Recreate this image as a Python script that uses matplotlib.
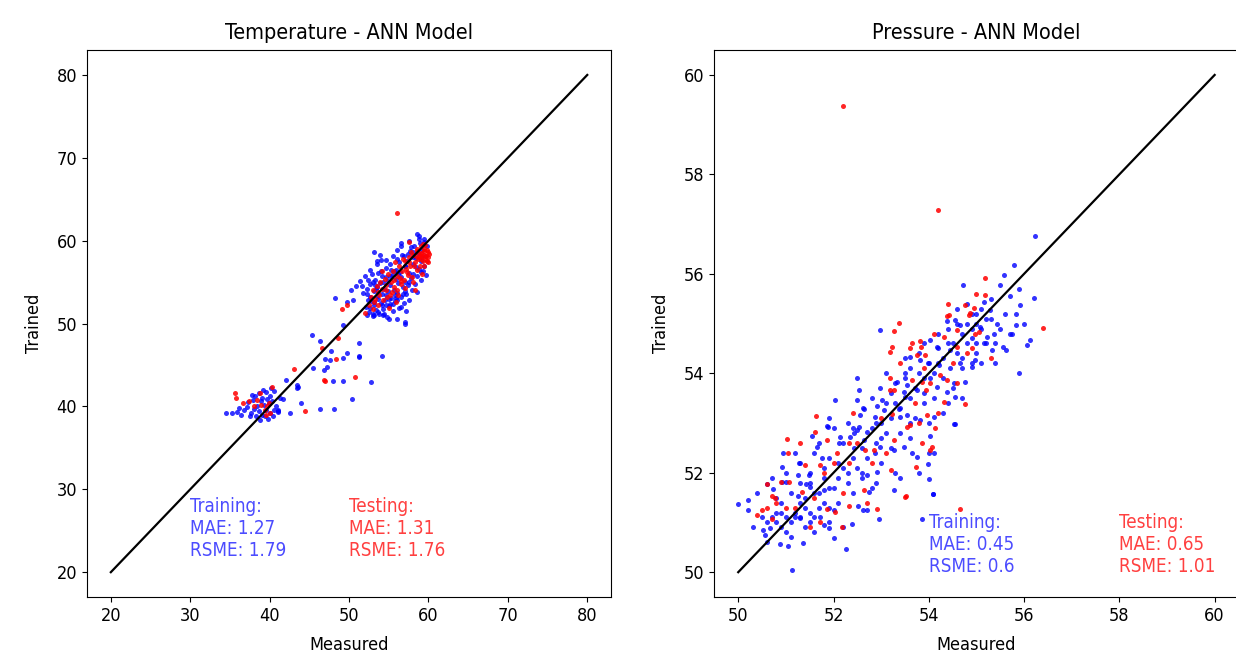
import numpy as np
import matplotlib
matplotlib.use('Agg')
import matplotlib.pyplot as plt

plt.rcParams['font.family'] = ['DejaVu Sans']
plt.rcParams['font.stretch'] = 'condensed'

# Temperature model: (measured, trained) pairs
temp_train = [
    # low cluster
    (34.5,39.2),(35.2,39.2),(35.9,39.3),(36.4,39.0),(36.8,39.6),(37.1,39.9),(37.3,40.5),(37.6,39.2),
    (37.9,40.8),(38.0,39.7),(38.2,41.2),(38.4,40.1),(38.6,39.4),(38.7,41.6),(38.9,40.6),(39.0,39.0),
    (39.1,41.0),(39.3,40.2),(39.4,38.8),(39.5,41.8),(39.6,39.6),(39.7,40.9),(39.8,38.5),(39.9,40.4),
    (40.0,41.3),(40.1,39.2),(40.3,40.7),(40.4,38.9),(40.6,41.9),(40.8,40.0),(38.3,38.9),(37.5,38.8),
    (36.2,39.8),(39.2,42.0),(40.5,39.6),(41.0,39.3),(41.3,41.0),(38.8,38.4),(37.8,41.4),(40.2,42.2),
    # middle scatter
    (45.3,48.6),(46.4,47.9),(49.3,49.8),(51.2,47.7),(47.7,46.7),(49.7,46.5),(49.3,45.9),(51.2,46.0),
    (47.0,45.7),(47.6,45.6),(47.2,44.8),(45.5,44.6),(46.8,44.4),(42.0,43.2),(43.4,42.6),(43.5,42.2),
    (48.0,43.1),(49.2,43.1),(52.8,43.0),(41.7,40.9),(43.9,40.4),(50.4,40.9),(46.4,39.7),(48.1,39.7),
    (42.6,39.2),(54.2,46.1),(57.0,50.0),(51.3,46.1),(41.0,39.6),(43.6,42.4),(41.1,39.4),
    # upper cluster
    (48.2,53.1),(50.3,54.1),(50.9,54.5),(51.6,54.5),(50.5,52.9),(49.7,52.6),(52.6,56.5),(53.2,58.6),
    (53.5,57.5),(56.6,59.7),(58.5,60.8),(58.8,60.2),(57.0,50.2),(56.6,52.0),(55.5,52.4),(52.2,51.0),
    (53.0,51.2),(54.3,51.0),(52.4,55.3),(51.4,55.1),(51.8,53.7),(53.5,53.3),(56.0,58.9),(54.7,57.7),
    (52.1,52.0),(52.3,53.6),(52.5,51.4),(52.6,54.8),(52.8,52.7),(53.0,50.9),(53.1,53.9),(53.2,52.2),
    (53.3,55.3),(53.4,51.6),(53.5,54.4),(53.6,53.0),(53.7,56.1),(53.8,51.1),(53.9,54.9),(54.0,52.5),
    (54.1,53.6),(54.2,55.8),(54.3,51.8),(54.4,54.2),(54.5,52.9),(54.6,56.7),(54.7,53.4),(54.8,50.8),
    (54.9,55.1),(55.0,52.1),(55.1,54.6),(55.2,57.2),(55.3,53.1),(55.4,55.9),(55.5,51.5),(55.6,54.0),
    (55.7,56.4),(55.8,52.7),(55.9,55.4),(56.0,57.8),(56.1,53.7),(56.2,54.9),(56.3,51.9),(56.4,56.2),
    (56.5,53.2),(56.6,55.6),(56.7,58.3),(56.8,54.4),(56.9,52.5),(57.0,56.9),(57.1,55.0),(57.2,53.6),
    (57.3,57.6),(57.4,54.7),(57.5,56.1),(57.6,52.9),(57.7,58.7),(57.8,55.5),(57.9,54.1),(58.0,57.2),
    (58.1,56.0),(58.2,59.3),(58.3,54.8),(58.4,57.9),(58.5,55.7),(58.6,53.8),(58.7,58.5),(58.8,56.6),
    (58.9,59.7),(59.0,55.2),(59.1,57.6),(59.2,58.9),(59.3,56.3),(59.4,60.2),(59.5,57.0),(59.6,58.2),
    (59.7,55.9),(59.8,59.4),(53.5,57.2),(54.0,57.7),(55.5,58.1),(56.5,59.4),(57.5,60.0),(58.8,60.6),
    (55.0,50.5),(56.0,50.6),(57.2,51.5),(52.0,55.7),(52.9,56.0),(53.9,58.3),(54.4,51.2),(55.2,52.4),
    (56.0,52.9),(57.0,53.9),(53.2,51.0),(53.6,51.4),(52.7,51.9),(54.6,52.2),(55.8,53.4),(55.2,55.8),
    (56.3,57.4),(57.8,59.2),(58.0,58.0),(59.1,56.2),(52.3,54.2),(53.0,55.0),(54.0,56.4),(55.9,56.5),
    (57.4,58.4),(54.9,53.9),(53.3,54.7),(52.4,52.8),(53.4,54.2),(54.3,55.0),(55.3,56.5),(56.2,56.0),
    (57.1,57.0),(58.1,58.6),(59.0,58.0),(59.5,59.9),(58.4,56.8),(57.6,55.0),(56.8,53.6),(55.9,53.1),
    (55.0,53.0),(54.1,52.2),(53.1,52.6),(52.6,53.2),(54.6,55.6),(56.9,58.1),
]
temp_test = [
    # low cluster
    (35.7,41.6),(36.7,40.4),(38.8,41.6),(40.3,42.4),(38.0,40.0),(39.4,39.6),(39.9,40.4),(40.1,39.2),
    (37.4,40.6),(38.4,40.8),(39.7,40.0),(35.8,41.0),(39.6,39.0),(38.9,40.2),
    # middle scatter
    (44.4,39.5),(47.0,43.1),(48.6,48.2),(46.6,47.1),(48.4,45.7),(43.1,44.5),(46.9,43.2),(50.7,43.6),
    (49.1,51.7),(49.8,52.2),
    # upper cluster
    (56.0,63.4),(57.6,59.8),(58.3,54.1),
    (52.5,52.3),(52.8,53.2),(53.0,54.0),(53.3,53.0),(53.5,54.5),(53.7,53.8),(53.9,55.0),(54.1,54.2),
    (54.3,52.8),(54.5,55.4),(54.7,54.0),(54.9,56.0),(55.1,53.5),(55.3,55.0),(55.5,56.3),(55.7,54.4),
    (55.9,52.6),(56.1,55.8),(56.3,57.0),(56.5,54.8),(56.7,56.4),(56.9,55.3),(57.1,57.5),(57.3,56.2),
    (57.5,58.0),(57.7,57.0),(57.9,55.6),(58.1,58.3),(58.3,57.4),(58.5,58.8),(58.7,57.8),(58.9,56.9),
    (59.1,58.5),(59.3,57.5),(59.5,59.0),(59.7,58.1),(59.9,58.6),(59.4,57.0),(59.8,57.6),(58.6,56.5),
    (59.0,59.3),(59.6,59.5),(57.8,58.6),(56.8,57.8),(55.8,57.4),(54.2,56.3),(53.0,51.8),(52.0,51.3),
    (55.0,51.9),(56.2,53.4),(57.0,54.3),(58.0,55.0),(59.2,56.0),(59.9,57.4),(53.6,52.2),(54.8,53.2),
    (56.0,54.0),(60.0,58.0),(59.5,58.3),(58.8,58.0),(58.2,57.0),(58.4,58.1),(58.6,59.0),(59.0,57.8),
    (59.2,58.2),(59.4,58.8),(59.6,57.8),(59.8,58.9),(60.1,58.4),(59.3,59.6),(58.9,58.4),(57.6,57.4),
    (57.2,56.6),(56.4,55.5),(55.6,55.2),(54.6,54.7),(53.8,53.5),(53.2,52.6),(55.4,53.8),(56.6,55.1),
    (57.4,55.9),
]

# Pressure model
pres_train = [
    (50.0,51.37),(50.2,51.45),(50.2,51.25),(50.6,51.77),(51.0,51.82),(50.95,52.39),(51.27,52.2),
    (51.43,51.77),(51.86,52.94),(52.04,53.46),(52.13,52.72),(52.53,53.66),(52.62,53.3),(52.97,54.88),
    (53.98,54.2),(54.72,55.77),(55.71,55.55),(56.2,55.52),(56.06,54.57),(55.75,54.8),(55.56,54.53),
    (54.54,52.98),(54.0,51.87),(54.08,51.57),(53.98,52.17),(53.27,51.66),(52.95,51.06),(52.62,51.25),
    (52.27,50.46),(52.0,50.68),(51.79,50.95),(51.04,50.52),(50.87,50.56),(51.36,50.59),(51.13,50.04),
    (50.53,50.85),(50.57,50.74),(50.66,50.88),(50.74,51.68),(50.92,51.82),(50.92,52.12),(51.3,52.19),
    (51.55,52.74),(51.88,52.92),(51.25,51.53),(52.39,50.97),(52.51,51.33),(52.7,51.25),(52.74,51.62),
    (52.91,52.02),(52.7,51.95),(52.88,52.4),(52.42,52.49),(51.65,52.52),(52.11,52.59),(52.35,52.72),
    (52.49,52.86),(51.76,52.29),(51.48,51.95),(51.26,51.95),(51.51,51.72),(51.79,51.65),(51.72,51.11),
    (51.9,50.88),(52.0,51.26),(51.3,51.08),(53.61,54.33),(53.82,54.27),(54.03,54.67),(54.17,54.53),
    (54.38,55.06),(54.56,55.07),(54.66,54.97),(55.15,55.44),(55.08,54.94),(55.23,54.73),(55.15,54.6),
    (55.36,54.8),(55.43,55.0),(55.33,54.47),(54.98,54.27),(54.66,54.2),(54.45,54.1),(54.21,54.16),
    (54.17,53.72),(53.75,53.66),(53.54,53.76),(53.51,53.53),(53.47,53.63),(53.33,53.83),(52.98,53.7),
    (53.02,53.46),(52.91,53.34),(52.88,53.12),(53.05,53.26),(53.37,53.29),(53.4,53.12),(53.54,53.16),
    (53.82,53.06),(54.1,53.13),(54.56,53.53),(54.52,52.99),(54.03,52.74),(54.0,52.39),(53.75,52.32),
    (53.65,52.39),(53.47,52.52),(53.26,52.45),(52.98,52.52),(52.63,52.66),(52.7,52.82),(52.53,52.92),
    (52.42,52.79),(52.56,53.16),(52.63,53.29),(52.49,53.46),(54.03,53.9),(54.45,54.47),(54.91,54.13),
    (54.77,53.83),(54.52,53.8),(54.38,53.63),(55.57,55.98),(55.5,55.77),(55.78,56.18),(55.29,55.27),
    (55.92,55.37),(56.13,54.67),(55.82,54.97),(55.61,54.47),(56.22,56.76),(53.86,51.06),(54.08,51.57),
    (55.82,55.2),(54.5,54.6),(54.7,54.8),(54.9,54.7),(55.0,55.0),(55.1,54.9),(54.8,54.6),(54.6,54.4),
    (55.2,55.1),(54.3,54.3),(54.1,54.0),(53.9,53.9),(53.7,53.7),(53.6,53.5),(53.4,53.3),(53.0,53.0),
    (52.8,52.9),(52.6,52.5),(52.4,52.3),(52.2,52.1),(51.8,51.9),(51.6,51.6),(51.4,51.5),(51.2,51.2),
    (51.0,51.1),(50.8,51.0),(50.7,51.1),(50.9,51.2),(51.1,51.0),(51.3,51.1),(51.5,51.2),(51.5,51.0),
    (51.7,51.3),(51.9,51.0),(51.2,51.1),(51.6,51.1),(50.6,51.0),(50.8,51.2),(53.2,53.6),(53.8,54.0),
    (54.2,54.8),(54.9,55.2),(55.0,54.6),(54.7,54.3),(53.5,54.0),(53.1,52.8),(52.3,51.8),(51.9,51.7),
    (52.1,51.4),(53.9,53.4),(54.4,53.4),(55.4,54.2),(55.9,54.0),(53.3,52.0),(52.8,51.7),(51.0,50.8),
    (50.5,51.1),(50.9,50.9),(51.4,51.3),(51.7,51.6),(51.5,51.8),(51.9,52.3),(52.2,52.6),(52.5,52.1),
    (52.4,52.9),(52.9,53.0),(53.1,53.4),(53.3,53.8),(53.6,54.1),(53.8,54.4),(54.0,54.2),(54.2,54.5),
    (54.4,54.9),(54.6,55.0),(54.8,55.0),(55.0,54.4),(54.7,54.1),(54.3,53.9),(53.9,53.6),(53.4,52.8),
    (52.6,52.0),(52.1,51.9),(51.8,52.1),(51.3,51.4),(50.8,51.5),(51.1,51.6),(52.9,52.6),(53.2,53.1),
    (54.9,54.9),(55.1,55.3),(55.3,55.1),(55.5,54.9),(52.0,52.9),(51.6,52.4),(53.6,53.0),(54.1,53.5),
    (50.3,50.9),(50.4,51.6),(50.6,50.6),(50.7,51.9),(50.9,51.4),(51.0,52.0),(51.1,50.7),(51.2,52.4),
    (51.3,51.8),(51.4,50.9),(51.5,52.0),(51.6,50.8),(51.7,52.6),(51.8,51.4),(51.9,53.1),(52.0,51.7),
    (52.1,52.2),(52.2,50.9),(52.3,53.0),(52.4,51.6),(52.5,53.9),(52.6,51.9),(52.7,52.3),(52.8,53.5),
    (52.9,51.8),(53.0,52.2),(53.1,54.0),(53.2,52.5),(53.3,53.4),(53.4,51.9),(53.5,54.3),(53.6,52.7),
    (53.7,53.1),(53.8,52.0),(53.9,54.6),(54.0,53.0),(54.1,52.4),(54.2,54.2),(54.3,53.2),(54.4,54.6),
    (54.5,53.7),(54.6,55.3),(54.7,53.5),(54.8,55.4),(54.9,54.2),(55.0,55.2),(55.1,54.2),(55.2,54.6),
    (55.3,55.5),(55.4,54.6),(55.6,55.2),(55.7,54.8),(55.9,55.7),(56.0,55.0),(52.3,52.0),(51.9,51.3),
    (53.0,52.7),(53.5,53.9),
]
pres_test = [
    (52.2,59.38),(54.2,57.28),(56.4,54.92),(50.4,51.15),(50.5,51.26),(50.6,51.77),(50.7,51.53),
    (50.9,51.82),(51.04,52.39),(51.02,52.68),(51.62,52.82),(51.64,53.14),(53.18,53.66),(53.28,54.85),
    (53.38,55.02),(53.23,54.53),(53.65,54.61),(53.82,54.65),(53.84,54.53),(54.38,55.15),(54.59,54.87),
    (54.75,55.37),(54.87,55.22),(54.94,55.31),(55.19,55.57),(54.77,53.38),(54.65,51.28),(53.86,52.59),
    (54.03,52.45),(53.53,51.53),(53.74,52.12),(53.21,52.05),(52.91,51.28),(50.71,51.06),(50.78,51.5),
    (51.06,51.82),(51.41,52.15),(51.34,51.62),(52.18,50.91),(52.32,51.33),(52.63,51.65),(52.81,52.19),
    (52.67,52.45),(52.32,52.19),(52.07,52.39),(51.72,52.15),(51.86,52.66),(51.86,51.28),(52.04,51.21),
    (51.71,51.01),(53.75,54.37),(53.93,54.37),(54.31,54.73),(54.42,55.17),(54.84,55.17),(54.98,54.8),
    (55.05,54.84),(54.8,54.4),(54.24,53.96),(54.38,53.86),(54.03,53.8),(53.95,53.66),(53.86,53.83),
    (53.65,53.86),(53.26,53.66),(53.19,53.9),(53.23,53.19),(53.54,52.92),(53.61,52.96),(53.96,53.16),
    (54.14,52.89),(54.31,53.43),(54.07,52.52),(53.26,52.66),(52.84,52.45),(52.32,52.59),(53.19,54.43),
    (54.59,54.53),(55.19,55.92),(53.51,51.52),(51.5,50.9),(50.8,51.4),(51.2,51.3),(52.5,52.6),
    (53.0,53.1),(53.4,54.2),(53.9,54.1),(54.5,54.2),(54.9,54.5),(51.8,52.0),(52.2,51.6),(53.7,53.4),
    (54.2,53.2),(50.6,51.3),(51.3,52.6),(52.0,52.2),(52.7,51.4),(53.1,52.4),(53.6,54.5),(54.1,54.8),
    (54.6,53.8),(55.0,55.6),(55.3,54.3),(51.6,51.5),(52.4,53.2),(53.8,53.0),(54.4,55.4),(51.0,51.3),
]

temp_train = np.array(temp_train)
temp_test = np.array(temp_test)
pres_train = np.array(pres_train)
pres_test = np.array(pres_test)

panels = [
    ('Temperature - ANN Model', temp_train, temp_test, (20, 80),
     ('1.27', '1.79'), ('1.31', '1.76'), (30, 22), (50, 22)),
    ('Pressure - ANN Model', pres_train, pres_test, (50, 60),
     ('0.45', '0.6'), ('0.65', '1.01'), (54, 50), (58, 50)),
]

fig = plt.figure(figsize=(12.36, 6.59), dpi=100)
axes = [fig.add_axes([0.0704, 0.094, 0.424, 0.830]),
        fig.add_axes([0.578, 0.094, 0.424, 0.830])]

for ax, (title, tr, te, lims, tr_err, te_err, tr_pos, te_pos) in zip(axes, panels):
    ax.scatter(tr[:, 0], tr[:, 1], s=13, color='blue', alpha=0.8, linewidths=0)
    ax.scatter(te[:, 0], te[:, 1], s=13, color='red', alpha=0.85, linewidths=0)
    ax.plot(lims, lims, color='black', lw=1.6)
    ax.text(tr_pos[0], tr_pos[1], 'Training:\nMAE: %s\nRSME: %s' % tr_err,
            color='blue', alpha=0.7, fontsize=13.5)
    ax.text(te_pos[0], te_pos[1], 'Testing:\nMAE: %s\nRSME: %s' % te_err,
            color='red', alpha=0.75, fontsize=13.5)
    ax.set_title(title, fontsize=15.5, pad=8)
    ax.set_xlabel('Measured', fontsize=13, labelpad=8)
    ax.set_ylabel('Trained', fontsize=13, labelpad=10)
    ax.tick_params(labelsize=13)
    span = lims[1] - lims[0]
    ax.set_xlim(lims[0] - 0.05 * span, lims[1] + 0.05 * span)
    ax.set_ylim(lims[0] - 0.05 * span, lims[1] + 0.05 * span)

fig.savefig('out.png', dpi=100)
